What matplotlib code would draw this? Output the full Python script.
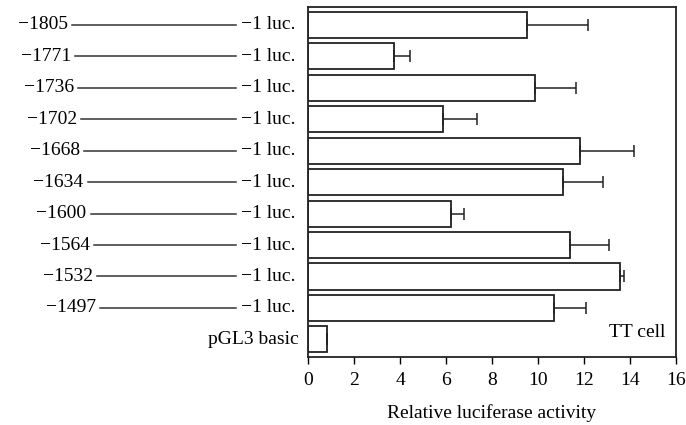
import matplotlib
matplotlib.use("Agg")
import matplotlib.pyplot as plt
from matplotlib.transforms import blended_transform_factory

plt.rcParams['font.family'] = ['Liberation Serif', 'DejaVu Serif']
plt.rcParams['font.size'] = 14

starts = ['−1805', '−1771', '−1736', '−1702', '−1668', '−1634',
          '−1600', '−1564', '−1532', '−1497']
activity = [9.52, 3.76, 9.89, 5.86, 11.81, 11.10, 6.22, 11.40, 13.58, 10.68, 0.81]
err_upper = [2.66, 0.68, 1.77, 1.48, 2.36, 1.72, 0.58, 1.70, 0.17, 1.42, 0.0]
xticks = [0, 2, 4, 6, 8, 10, 12, 14, 16]

fig = plt.figure(figsize=(6.86, 4.25), dpi=100)
ax = fig.add_axes([308 / 686, 68 / 425, 368 / 686, 350 / 425])

pos = list(range(len(activity)))
ax.barh(pos, activity, height=0.83, color='white', edgecolor='#222222',
        linewidth=1.3, zorder=2)
ax.errorbar(activity, pos, xerr=[[0] * len(activity), err_upper], fmt='none',
            ecolor='#222222', elinewidth=1.1, capsize=4, capthick=1.1, zorder=3)

ax.set_xlim(0, 16)
ax.set_ylim(10.56, -0.57)
ax.set_xticks(xticks)
ax.set_yticks([])
ax.tick_params(axis='x', direction='out', length=5, width=1, pad=6)
for s in ax.spines.values():
    s.set_linewidth(1.3)
    s.set_color('#222222')
ax.set_xlabel('Relative luciferase activity', labelpad=11)

# construct labels on the left
tr = blended_transform_factory(fig.transFigure, ax.transData)
for i, name in enumerate(starts):
    num_right = (68 + 3.1 * i) / 686
    ax.text(num_right, i, name, transform=tr, ha='right', va='center',
            clip_on=False)
    ax.plot([num_right + 4 / 686, 236 / 686], [i, i], transform=tr,
            color='#333333', lw=1.1, clip_on=False)
    ax.text(268 / 686, i, '−1 luc.', transform=tr, ha='center', va='center',
            clip_on=False)
ax.text(299 / 686, len(starts), 'pGL3 basic', transform=tr, ha='right',
        va='center', clip_on=False)

ax.text(0.97, 0.07, 'TT cell', transform=ax.transAxes, ha='right',
        va='center')

fig.savefig('out.png', dpi=100)
